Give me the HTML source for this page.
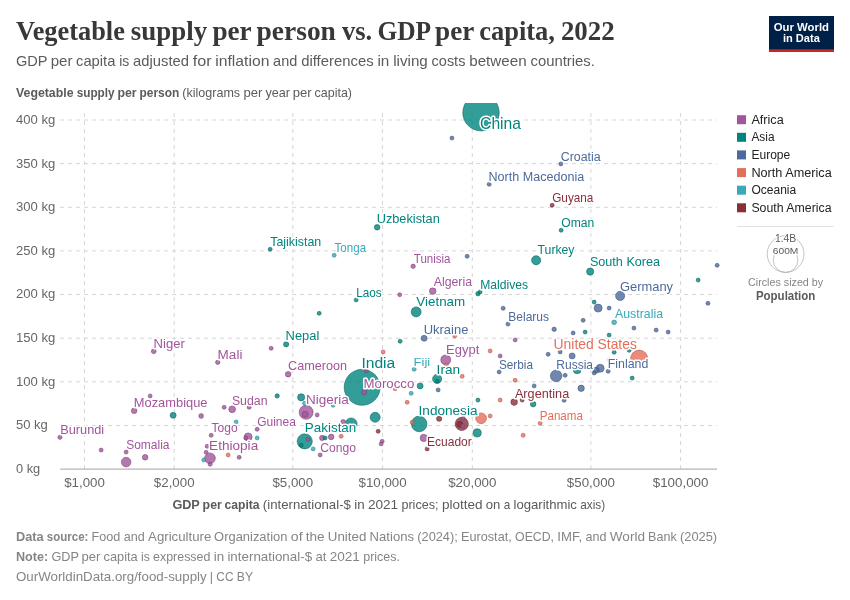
<!DOCTYPE html>
<html lang="en"><head><meta charset="utf-8"><title>Vegetable supply per person vs. GDP per capita, 2022</title>
<style>
html,body{margin:0;padding:0;background:#fff;}
body{width:850px;height:600px;overflow:hidden;font-family:"Liberation Sans",sans-serif;}
svg{display:block;font-family:"Liberation Sans",sans-serif;}
.t{font-family:"Liberation Serif",serif;font-weight:700;fill:#383838;}
.g{stroke:#d6d6d6;stroke-width:1;stroke-dasharray:4 4;fill:none;}
.lb text{paint-order:stroke;stroke:#fff;stroke-width:3px;stroke-linejoin:round;}
.tick{font-size:13px;fill:#666;}
</style></head><body>
<svg width="850" height="600" viewBox="0 0 850 600">
<rect width="850" height="600" fill="#fff"/>
<text y="40" font-size="26.3" class="t"><tspan x="16.0" textLength="108.9" lengthAdjust="spacingAndGlyphs">Vegetable</tspan> <tspan x="130.8" textLength="76.3" lengthAdjust="spacingAndGlyphs">supply</tspan> <tspan x="212.4" textLength="38.8" lengthAdjust="spacingAndGlyphs">per</tspan> <tspan x="256.6" textLength="79.3" lengthAdjust="spacingAndGlyphs">person</tspan> <tspan x="341.9" textLength="30.2" lengthAdjust="spacingAndGlyphs">vs.</tspan> <tspan x="377.4" textLength="52.3" lengthAdjust="spacingAndGlyphs">GDP</tspan> <tspan x="435.0" textLength="38.8" lengthAdjust="spacingAndGlyphs">per</tspan> <tspan x="479.2" textLength="75.8" lengthAdjust="spacingAndGlyphs">capita,</tspan> <tspan x="560.9" textLength="53.8" lengthAdjust="spacingAndGlyphs">2022</tspan></text>
<text y="66" font-size="14.8" fill="#5b5b5b"><tspan x="16.0" textLength="31.3" lengthAdjust="spacingAndGlyphs">GDP</tspan> <tspan x="50.7" textLength="21.7" lengthAdjust="spacingAndGlyphs">per</tspan> <tspan x="76.0" textLength="39.4" lengthAdjust="spacingAndGlyphs">capita</tspan> <tspan x="119.2" textLength="10.1" lengthAdjust="spacingAndGlyphs">is</tspan> <tspan x="133.1" textLength="55.9" lengthAdjust="spacingAndGlyphs">adjusted</tspan> <tspan x="192.8" textLength="18.9" lengthAdjust="spacingAndGlyphs">for</tspan> <tspan x="215.3" textLength="54.1" lengthAdjust="spacingAndGlyphs">inflation</tspan> <tspan x="273.1" textLength="24.2" lengthAdjust="spacingAndGlyphs">and</tspan> <tspan x="301.2" textLength="72.4" lengthAdjust="spacingAndGlyphs">differences</tspan> <tspan x="377.4" textLength="11.9" lengthAdjust="spacingAndGlyphs">in</tspan> <tspan x="393.2" textLength="34.6" lengthAdjust="spacingAndGlyphs">living</tspan> <tspan x="431.6" textLength="33.8" lengthAdjust="spacingAndGlyphs">costs</tspan> <tspan x="469.2" textLength="57.4" lengthAdjust="spacingAndGlyphs">between</tspan> <tspan x="530.5" textLength="64.4" lengthAdjust="spacingAndGlyphs">countries.</tspan></text>
<g><rect x="769" y="16" width="65" height="36" fill="#002147"/><rect x="769" y="49.3" width="65" height="2.7" fill="#ce261e"/><text x="801.4" y="30.6" font-size="11.4" font-weight="700" fill="#fff" text-anchor="middle" textLength="55.2" lengthAdjust="spacingAndGlyphs">Our World</text><text x="801.4" y="42.4" font-size="11.4" font-weight="700" fill="#fff" text-anchor="middle" textLength="37" lengthAdjust="spacingAndGlyphs">in Data</text></g>
<text y="97" font-size="13" fill="#5b5b5b"><tspan x="16.0" font-weight="700" textLength="57.5" lengthAdjust="spacingAndGlyphs">Vegetable</tspan> <tspan x="76.7" font-weight="700" textLength="37.9" lengthAdjust="spacingAndGlyphs">supply</tspan> <tspan x="117.4" font-weight="700" textLength="19.2" lengthAdjust="spacingAndGlyphs">per</tspan> <tspan x="139.5" font-weight="700" textLength="39.7" lengthAdjust="spacingAndGlyphs">person</tspan> <tspan x="182.3" textLength="57.8" lengthAdjust="spacingAndGlyphs">(kilograms</tspan> <tspan x="243.4" textLength="18.9" lengthAdjust="spacingAndGlyphs">per</tspan> <tspan x="265.4" textLength="24.6" lengthAdjust="spacingAndGlyphs">year</tspan> <tspan x="292.7" textLength="18.9" lengthAdjust="spacingAndGlyphs">per</tspan> <tspan x="314.6" textLength="37.4" lengthAdjust="spacingAndGlyphs">capita)</tspan></text>
<g class="g"><line x1="60" y1="425.5" x2="717" y2="425.5"/><line x1="60" y1="381.8" x2="717" y2="381.8"/><line x1="60" y1="338.2" x2="717" y2="338.2"/><line x1="60" y1="294.5" x2="717" y2="294.5"/><line x1="60" y1="250.9" x2="717" y2="250.9"/><line x1="60" y1="207.3" x2="717" y2="207.3"/><line x1="60" y1="163.6" x2="717" y2="163.6"/><line x1="60" y1="120.0" x2="717" y2="120.0"/><line x1="84.5" y1="113" x2="84.5" y2="469.1"/><line x1="174.22" y1="113" x2="174.22" y2="469.1"/><line x1="292.83" y1="113" x2="292.83" y2="469.1"/><line x1="382.55" y1="113" x2="382.55" y2="469.1"/><line x1="472.27" y1="113" x2="472.27" y2="469.1"/><line x1="590.88" y1="113" x2="590.88" y2="469.1"/><line x1="680.6" y1="113" x2="680.6" y2="469.1"/></g>
<line x1="60.2" y1="469.1" x2="717" y2="469.1" stroke="#a1a1a1" stroke-width="1"/>
<g class="tick"><text x="16.0" y="473.0" font-size="13" textLength="24.2" lengthAdjust="spacingAndGlyphs">0 kg</text><text x="16.0" y="429.4" font-size="13" textLength="31.8" lengthAdjust="spacingAndGlyphs">50 kg</text><text x="16.0" y="385.7" font-size="13" textLength="39.3" lengthAdjust="spacingAndGlyphs">100 kg</text><text x="16.0" y="342.1" font-size="13" textLength="39.3" lengthAdjust="spacingAndGlyphs">150 kg</text><text x="16.0" y="298.4" font-size="13" textLength="39.3" lengthAdjust="spacingAndGlyphs">200 kg</text><text x="16.0" y="254.8" font-size="13" textLength="39.3" lengthAdjust="spacingAndGlyphs">250 kg</text><text x="16.0" y="211.2" font-size="13" textLength="39.3" lengthAdjust="spacingAndGlyphs">300 kg</text><text x="16.0" y="167.5" font-size="13" textLength="39.3" lengthAdjust="spacingAndGlyphs">350 kg</text><text x="16.0" y="123.9" font-size="13" textLength="39.3" lengthAdjust="spacingAndGlyphs">400 kg</text><text x="84.5" y="487.0" font-size="13" text-anchor="middle" textLength="40.7" lengthAdjust="spacingAndGlyphs">$1,000</text><text x="174.2" y="487.0" font-size="13" text-anchor="middle" textLength="40.7" lengthAdjust="spacingAndGlyphs">$2,000</text><text x="292.8" y="487.0" font-size="13" text-anchor="middle" textLength="40.7" lengthAdjust="spacingAndGlyphs">$5,000</text><text x="382.6" y="487.0" font-size="13" text-anchor="middle" textLength="48.2" lengthAdjust="spacingAndGlyphs">$10,000</text><text x="472.3" y="487.0" font-size="13" text-anchor="middle" textLength="48.2" lengthAdjust="spacingAndGlyphs">$20,000</text><text x="590.9" y="487.0" font-size="13" text-anchor="middle" textLength="48.2" lengthAdjust="spacingAndGlyphs">$50,000</text><text x="680.6" y="487.0" font-size="13" text-anchor="middle" textLength="55.7" lengthAdjust="spacingAndGlyphs">$100,000</text></g>
<text y="508.6" font-size="13" fill="#5b5b5b"><tspan x="172.4" font-weight="700" textLength="27.4" lengthAdjust="spacingAndGlyphs">GDP</tspan> <tspan x="202.6" font-weight="700" textLength="19.2" lengthAdjust="spacingAndGlyphs">per</tspan> <tspan x="224.6" font-weight="700" textLength="35.0" lengthAdjust="spacingAndGlyphs">capita</tspan> <tspan x="262.8" textLength="88.1" lengthAdjust="spacingAndGlyphs">(international-$</tspan> <tspan x="354.2" textLength="10.4" lengthAdjust="spacingAndGlyphs">in</tspan> <tspan x="367.9" textLength="30.2" lengthAdjust="spacingAndGlyphs">2021</tspan> <tspan x="401.4" textLength="37.1" lengthAdjust="spacingAndGlyphs">prices;</tspan> <tspan x="441.9" textLength="40.6" lengthAdjust="spacingAndGlyphs">plotted</tspan> <tspan x="485.8" textLength="14.6" lengthAdjust="spacingAndGlyphs">on</tspan> <tspan x="503.8" textLength="6.5" lengthAdjust="spacingAndGlyphs">a</tspan> <tspan x="513.5" textLength="63.4" lengthAdjust="spacingAndGlyphs">logarithmic</tspan> <tspan x="580.3" textLength="24.9" lengthAdjust="spacingAndGlyphs">axis)</tspan></text>
<defs><clipPath id="cp"><rect x="50" y="103" width="677" height="377"/></clipPath></defs>
<g clip-path="url(#cp)"><circle cx="481.00" cy="112.65" r="18.25" fill="#00847e" fill-opacity="0.8" stroke="#005a56" stroke-width="0.5"/><circle cx="362.15" cy="387.30" r="18" fill="#00847e" fill-opacity="0.8" stroke="#005a56" stroke-width="0.5"/><circle cx="639.15" cy="358.70" r="8.6" fill="#e56e5a" fill-opacity="0.8" stroke="#a84e40" stroke-width="0.5"/><circle cx="419.15" cy="423.90" r="7.8" fill="#00847e" fill-opacity="0.8" stroke="#005a56" stroke-width="0.5"/><circle cx="304.75" cy="441.30" r="7.6" fill="#00847e" fill-opacity="0.8" stroke="#005a56" stroke-width="0.5"/><circle cx="306.15" cy="412.30" r="7" fill="#a2559c" fill-opacity="0.8" stroke="#6f3a6b" stroke-width="0.5"/><circle cx="461.75" cy="423.90" r="6.6" fill="#883039" fill-opacity="0.8" stroke="#5a1f25" stroke-width="0.5"/><circle cx="351.15" cy="423.90" r="6" fill="#00847e" fill-opacity="0.8" stroke="#005a56" stroke-width="0.5"/><circle cx="556.15" cy="375.90" r="5.8" fill="#4c6a9c" fill-opacity="0.8" stroke="#34496b" stroke-width="0.5"/><circle cx="209.95" cy="458.30" r="5.4" fill="#a2559c" fill-opacity="0.8" stroke="#6f3a6b" stroke-width="0.5"/><circle cx="481.15" cy="418.30" r="5.4" fill="#e56e5a" fill-opacity="0.8" stroke="#a84e40" stroke-width="0.5"/><circle cx="445.75" cy="359.90" r="5" fill="#a2559c" fill-opacity="0.8" stroke="#6f3a6b" stroke-width="0.5"/><circle cx="375.15" cy="417.30" r="5" fill="#00847e" fill-opacity="0.8" stroke="#005a56" stroke-width="0.5"/><circle cx="416.15" cy="311.90" r="5" fill="#00847e" fill-opacity="0.8" stroke="#005a56" stroke-width="0.5"/><circle cx="126.15" cy="462.10" r="4.8" fill="#a2559c" fill-opacity="0.8" stroke="#6f3a6b" stroke-width="0.5"/><circle cx="437.15" cy="378.90" r="4.6" fill="#00847e" fill-opacity="0.8" stroke="#005a56" stroke-width="0.5"/><circle cx="536.15" cy="260.30" r="4.6" fill="#00847e" fill-opacity="0.8" stroke="#005a56" stroke-width="0.5"/><circle cx="620.15" cy="295.90" r="4.6" fill="#4c6a9c" fill-opacity="0.8" stroke="#34496b" stroke-width="0.5"/><circle cx="477.15" cy="432.90" r="4.1" fill="#00847e" fill-opacity="0.8" stroke="#005a56" stroke-width="0.5"/><circle cx="248.15" cy="436.90" r="4" fill="#a2559c" fill-opacity="0.8" stroke="#6f3a6b" stroke-width="0.5"/><circle cx="577.15" cy="369.70" r="4" fill="#00847e" fill-opacity="0.8" stroke="#005a56" stroke-width="0.5"/><circle cx="598.15" cy="308.10" r="4" fill="#4c6a9c" fill-opacity="0.8" stroke="#34496b" stroke-width="0.5"/><circle cx="600.15" cy="368.30" r="4" fill="#4c6a9c" fill-opacity="0.8" stroke="#34496b" stroke-width="0.5"/><circle cx="423.75" cy="437.90" r="3.6" fill="#a2559c" fill-opacity="0.8" stroke="#6f3a6b" stroke-width="0.5"/><circle cx="301.15" cy="397.30" r="3.6" fill="#00847e" fill-opacity="0.8" stroke="#005a56" stroke-width="0.5"/><circle cx="590.15" cy="271.60" r="3.6" fill="#00847e" fill-opacity="0.8" stroke="#005a56" stroke-width="0.5"/><circle cx="232.15" cy="409.30" r="3.4" fill="#a2559c" fill-opacity="0.8" stroke="#6f3a6b" stroke-width="0.5"/><circle cx="432.75" cy="291.10" r="3.3" fill="#a2559c" fill-opacity="0.8" stroke="#6f3a6b" stroke-width="0.5"/><circle cx="514.15" cy="402.10" r="3.3" fill="#883039" fill-opacity="0.8" stroke="#5a1f25" stroke-width="0.5"/><circle cx="581.15" cy="388.30" r="3.2" fill="#4c6a9c" fill-opacity="0.8" stroke="#34496b" stroke-width="0.5"/><circle cx="305.15" cy="414.30" r="3" fill="#a2559c" fill-opacity="0.8" stroke="#6f3a6b" stroke-width="0.5"/><circle cx="173.15" cy="415.30" r="3" fill="#00847e" fill-opacity="0.8" stroke="#005a56" stroke-width="0.5"/><circle cx="420.15" cy="385.90" r="3" fill="#00847e" fill-opacity="0.8" stroke="#005a56" stroke-width="0.5"/><circle cx="424.15" cy="338.30" r="3" fill="#4c6a9c" fill-opacity="0.8" stroke="#34496b" stroke-width="0.5"/><circle cx="572.15" cy="355.90" r="3" fill="#4c6a9c" fill-opacity="0.8" stroke="#34496b" stroke-width="0.5"/><circle cx="596.15" cy="370.30" r="3" fill="#4c6a9c" fill-opacity="0.8" stroke="#34496b" stroke-width="0.5"/><circle cx="459.75" cy="424.30" r="3" fill="#883039" fill-opacity="0.8" stroke="#5a1f25" stroke-width="0.5"/><circle cx="145.15" cy="457.30" r="2.8" fill="#a2559c" fill-opacity="0.8" stroke="#6f3a6b" stroke-width="0.5"/><circle cx="134.15" cy="410.80" r="2.8" fill="#a2559c" fill-opacity="0.8" stroke="#6f3a6b" stroke-width="0.5"/><circle cx="331.15" cy="436.90" r="2.8" fill="#a2559c" fill-opacity="0.8" stroke="#6f3a6b" stroke-width="0.5"/><circle cx="288.15" cy="374.30" r="2.8" fill="#a2559c" fill-opacity="0.8" stroke="#6f3a6b" stroke-width="0.5"/><circle cx="533.15" cy="404.10" r="2.8" fill="#00847e" fill-opacity="0.8" stroke="#005a56" stroke-width="0.5"/><circle cx="377.15" cy="227.30" r="2.8" fill="#00847e" fill-opacity="0.8" stroke="#005a56" stroke-width="0.5"/><circle cx="322.15" cy="437.90" r="2.6" fill="#a2559c" fill-opacity="0.8" stroke="#6f3a6b" stroke-width="0.5"/><circle cx="364.15" cy="392.30" r="2.6" fill="#a2559c" fill-opacity="0.8" stroke="#6f3a6b" stroke-width="0.5"/><circle cx="286.15" cy="344.30" r="2.6" fill="#00847e" fill-opacity="0.8" stroke="#005a56" stroke-width="0.5"/><circle cx="439.15" cy="418.70" r="2.6" fill="#883039" fill-opacity="0.8" stroke="#5a1f25" stroke-width="0.5"/><circle cx="201.15" cy="416.00" r="2.4" fill="#a2559c" fill-opacity="0.8" stroke="#6f3a6b" stroke-width="0.5"/><circle cx="343.15" cy="421.90" r="2.4" fill="#a2559c" fill-opacity="0.8" stroke="#6f3a6b" stroke-width="0.5"/><circle cx="153.75" cy="351.30" r="2.4" fill="#a2559c" fill-opacity="0.8" stroke="#6f3a6b" stroke-width="0.5"/><circle cx="614.15" cy="322.30" r="2.4" fill="#38aaba" fill-opacity="0.8" stroke="#267581" stroke-width="0.5"/><circle cx="217.75" cy="362.30" r="2.2" fill="#a2559c" fill-opacity="0.8" stroke="#6f3a6b" stroke-width="0.5"/><circle cx="413.15" cy="266.30" r="2.2" fill="#a2559c" fill-opacity="0.8" stroke="#6f3a6b" stroke-width="0.5"/><circle cx="277.15" cy="395.90" r="2.2" fill="#00847e" fill-opacity="0.8" stroke="#005a56" stroke-width="0.5"/><circle cx="477.95" cy="293.70" r="2.2" fill="#00847e" fill-opacity="0.8" stroke="#005a56" stroke-width="0.5"/><circle cx="554.15" cy="329.30" r="2.2" fill="#4c6a9c" fill-opacity="0.8" stroke="#34496b" stroke-width="0.5"/><circle cx="59.95" cy="437.30" r="2.1" fill="#a2559c" fill-opacity="0.8" stroke="#6f3a6b" stroke-width="0.5"/><circle cx="101.15" cy="450.10" r="2" fill="#a2559c" fill-opacity="0.8" stroke="#6f3a6b" stroke-width="0.5"/><circle cx="126.15" cy="452.10" r="2" fill="#a2559c" fill-opacity="0.8" stroke="#6f3a6b" stroke-width="0.5"/><circle cx="211.15" cy="435.30" r="2" fill="#a2559c" fill-opacity="0.8" stroke="#6f3a6b" stroke-width="0.5"/><circle cx="207.15" cy="446.30" r="2" fill="#a2559c" fill-opacity="0.8" stroke="#6f3a6b" stroke-width="0.5"/><circle cx="206.15" cy="452.30" r="2" fill="#a2559c" fill-opacity="0.8" stroke="#6f3a6b" stroke-width="0.5"/><circle cx="210.15" cy="464.30" r="2" fill="#a2559c" fill-opacity="0.8" stroke="#6f3a6b" stroke-width="0.5"/><circle cx="224.15" cy="407.30" r="2" fill="#a2559c" fill-opacity="0.8" stroke="#6f3a6b" stroke-width="0.5"/><circle cx="249.15" cy="407.30" r="2" fill="#a2559c" fill-opacity="0.8" stroke="#6f3a6b" stroke-width="0.5"/><circle cx="257.15" cy="429.30" r="2" fill="#a2559c" fill-opacity="0.8" stroke="#6f3a6b" stroke-width="0.5"/><circle cx="245.75" cy="437.90" r="2" fill="#a2559c" fill-opacity="0.8" stroke="#6f3a6b" stroke-width="0.5"/><circle cx="239.15" cy="457.30" r="2" fill="#a2559c" fill-opacity="0.8" stroke="#6f3a6b" stroke-width="0.5"/><circle cx="317.15" cy="414.90" r="2" fill="#a2559c" fill-opacity="0.8" stroke="#6f3a6b" stroke-width="0.5"/><circle cx="308.15" cy="439.30" r="2" fill="#a2559c" fill-opacity="0.8" stroke="#6f3a6b" stroke-width="0.5"/><circle cx="320.15" cy="454.90" r="2" fill="#a2559c" fill-opacity="0.8" stroke="#6f3a6b" stroke-width="0.5"/><circle cx="382.15" cy="441.30" r="2" fill="#a2559c" fill-opacity="0.8" stroke="#6f3a6b" stroke-width="0.5"/><circle cx="381.15" cy="443.90" r="2" fill="#a2559c" fill-opacity="0.8" stroke="#6f3a6b" stroke-width="0.5"/><circle cx="463.15" cy="418.30" r="2" fill="#a2559c" fill-opacity="0.8" stroke="#6f3a6b" stroke-width="0.5"/><circle cx="462.75" cy="425.90" r="2" fill="#a2559c" fill-opacity="0.8" stroke="#6f3a6b" stroke-width="0.5"/><circle cx="150.15" cy="395.90" r="2" fill="#a2559c" fill-opacity="0.8" stroke="#6f3a6b" stroke-width="0.5"/><circle cx="271.15" cy="348.30" r="2" fill="#a2559c" fill-opacity="0.8" stroke="#6f3a6b" stroke-width="0.5"/><circle cx="366.15" cy="370.80" r="2" fill="#a2559c" fill-opacity="0.8" stroke="#6f3a6b" stroke-width="0.5"/><circle cx="399.75" cy="294.70" r="2" fill="#a2559c" fill-opacity="0.8" stroke="#6f3a6b" stroke-width="0.5"/><circle cx="500.15" cy="355.90" r="2" fill="#a2559c" fill-opacity="0.8" stroke="#6f3a6b" stroke-width="0.5"/><circle cx="515.15" cy="339.90" r="2" fill="#a2559c" fill-opacity="0.8" stroke="#6f3a6b" stroke-width="0.5"/><circle cx="301.15" cy="445.30" r="2" fill="#00847e" fill-opacity="0.8" stroke="#005a56" stroke-width="0.5"/><circle cx="325.15" cy="437.90" r="2" fill="#00847e" fill-opacity="0.8" stroke="#005a56" stroke-width="0.5"/><circle cx="477.95" cy="400.10" r="2" fill="#00847e" fill-opacity="0.8" stroke="#005a56" stroke-width="0.5"/><circle cx="319.15" cy="313.30" r="2" fill="#00847e" fill-opacity="0.8" stroke="#005a56" stroke-width="0.5"/><circle cx="356.15" cy="299.90" r="2" fill="#00847e" fill-opacity="0.8" stroke="#005a56" stroke-width="0.5"/><circle cx="480.15" cy="291.90" r="2" fill="#00847e" fill-opacity="0.8" stroke="#005a56" stroke-width="0.5"/><circle cx="400.15" cy="341.30" r="2" fill="#00847e" fill-opacity="0.8" stroke="#005a56" stroke-width="0.5"/><circle cx="585.15" cy="332.10" r="2" fill="#00847e" fill-opacity="0.8" stroke="#005a56" stroke-width="0.5"/><circle cx="594.15" cy="302.10" r="2" fill="#00847e" fill-opacity="0.8" stroke="#005a56" stroke-width="0.5"/><circle cx="609.15" cy="335.10" r="2" fill="#00847e" fill-opacity="0.8" stroke="#005a56" stroke-width="0.5"/><circle cx="614.15" cy="352.30" r="2" fill="#00847e" fill-opacity="0.8" stroke="#005a56" stroke-width="0.5"/><circle cx="629.15" cy="350.30" r="2" fill="#00847e" fill-opacity="0.8" stroke="#005a56" stroke-width="0.5"/><circle cx="632.15" cy="378.10" r="2" fill="#00847e" fill-opacity="0.8" stroke="#005a56" stroke-width="0.5"/><circle cx="698.15" cy="280.10" r="2" fill="#00847e" fill-opacity="0.8" stroke="#005a56" stroke-width="0.5"/><circle cx="270.15" cy="249.30" r="2" fill="#00847e" fill-opacity="0.8" stroke="#005a56" stroke-width="0.5"/><circle cx="561.15" cy="230.30" r="2" fill="#00847e" fill-opacity="0.8" stroke="#005a56" stroke-width="0.5"/><circle cx="503.15" cy="308.30" r="2" fill="#4c6a9c" fill-opacity="0.8" stroke="#34496b" stroke-width="0.5"/><circle cx="507.95" cy="324.10" r="2" fill="#4c6a9c" fill-opacity="0.8" stroke="#34496b" stroke-width="0.5"/><circle cx="499.15" cy="371.90" r="2" fill="#4c6a9c" fill-opacity="0.8" stroke="#34496b" stroke-width="0.5"/><circle cx="438.15" cy="389.90" r="2" fill="#4c6a9c" fill-opacity="0.8" stroke="#34496b" stroke-width="0.5"/><circle cx="534.15" cy="385.90" r="2" fill="#4c6a9c" fill-opacity="0.8" stroke="#34496b" stroke-width="0.5"/><circle cx="573.15" cy="332.90" r="2" fill="#4c6a9c" fill-opacity="0.8" stroke="#34496b" stroke-width="0.5"/><circle cx="583.15" cy="320.30" r="2" fill="#4c6a9c" fill-opacity="0.8" stroke="#34496b" stroke-width="0.5"/><circle cx="609.15" cy="308.10" r="2" fill="#4c6a9c" fill-opacity="0.8" stroke="#34496b" stroke-width="0.5"/><circle cx="633.95" cy="328.10" r="2" fill="#4c6a9c" fill-opacity="0.8" stroke="#34496b" stroke-width="0.5"/><circle cx="656.15" cy="330.10" r="2" fill="#4c6a9c" fill-opacity="0.8" stroke="#34496b" stroke-width="0.5"/><circle cx="668.15" cy="332.10" r="2" fill="#4c6a9c" fill-opacity="0.8" stroke="#34496b" stroke-width="0.5"/><circle cx="548.15" cy="354.30" r="2" fill="#4c6a9c" fill-opacity="0.8" stroke="#34496b" stroke-width="0.5"/><circle cx="560.15" cy="351.90" r="2" fill="#4c6a9c" fill-opacity="0.8" stroke="#34496b" stroke-width="0.5"/><circle cx="565.15" cy="375.30" r="2" fill="#4c6a9c" fill-opacity="0.8" stroke="#34496b" stroke-width="0.5"/><circle cx="594.15" cy="372.90" r="2" fill="#4c6a9c" fill-opacity="0.8" stroke="#34496b" stroke-width="0.5"/><circle cx="608.15" cy="371.30" r="2" fill="#4c6a9c" fill-opacity="0.8" stroke="#34496b" stroke-width="0.5"/><circle cx="564.15" cy="400.30" r="2" fill="#4c6a9c" fill-opacity="0.8" stroke="#34496b" stroke-width="0.5"/><circle cx="717.15" cy="265.30" r="2" fill="#4c6a9c" fill-opacity="0.8" stroke="#34496b" stroke-width="0.5"/><circle cx="707.95" cy="303.30" r="2" fill="#4c6a9c" fill-opacity="0.8" stroke="#34496b" stroke-width="0.5"/><circle cx="467.15" cy="256.30" r="2" fill="#4c6a9c" fill-opacity="0.8" stroke="#34496b" stroke-width="0.5"/><circle cx="489.15" cy="184.30" r="2" fill="#4c6a9c" fill-opacity="0.8" stroke="#34496b" stroke-width="0.5"/><circle cx="560.85" cy="163.90" r="2" fill="#4c6a9c" fill-opacity="0.8" stroke="#34496b" stroke-width="0.5"/><circle cx="451.95" cy="138.10" r="2" fill="#4c6a9c" fill-opacity="0.8" stroke="#34496b" stroke-width="0.5"/><circle cx="228.15" cy="454.90" r="2" fill="#e56e5a" fill-opacity="0.8" stroke="#a84e40" stroke-width="0.5"/><circle cx="341.15" cy="436.30" r="2" fill="#e56e5a" fill-opacity="0.8" stroke="#a84e40" stroke-width="0.5"/><circle cx="407.15" cy="402.30" r="2" fill="#e56e5a" fill-opacity="0.8" stroke="#a84e40" stroke-width="0.5"/><circle cx="412.15" cy="422.30" r="2" fill="#e56e5a" fill-opacity="0.8" stroke="#a84e40" stroke-width="0.5"/><circle cx="490.15" cy="415.90" r="2" fill="#e56e5a" fill-opacity="0.8" stroke="#a84e40" stroke-width="0.5"/><circle cx="500.15" cy="400.10" r="2" fill="#e56e5a" fill-opacity="0.8" stroke="#a84e40" stroke-width="0.5"/><circle cx="540.15" cy="423.30" r="2" fill="#e56e5a" fill-opacity="0.8" stroke="#a84e40" stroke-width="0.5"/><circle cx="523.15" cy="435.30" r="2" fill="#e56e5a" fill-opacity="0.8" stroke="#a84e40" stroke-width="0.5"/><circle cx="454.75" cy="335.90" r="2" fill="#e56e5a" fill-opacity="0.8" stroke="#a84e40" stroke-width="0.5"/><circle cx="383.15" cy="351.90" r="2" fill="#e56e5a" fill-opacity="0.8" stroke="#a84e40" stroke-width="0.5"/><circle cx="490.15" cy="350.90" r="2" fill="#e56e5a" fill-opacity="0.8" stroke="#a84e40" stroke-width="0.5"/><circle cx="462.15" cy="376.30" r="2" fill="#e56e5a" fill-opacity="0.8" stroke="#a84e40" stroke-width="0.5"/><circle cx="395.15" cy="388.70" r="2" fill="#e56e5a" fill-opacity="0.8" stroke="#a84e40" stroke-width="0.5"/><circle cx="515.15" cy="380.30" r="2" fill="#e56e5a" fill-opacity="0.8" stroke="#a84e40" stroke-width="0.5"/><circle cx="609.15" cy="359.90" r="2" fill="#e56e5a" fill-opacity="0.8" stroke="#a84e40" stroke-width="0.5"/><circle cx="446.35" cy="364.70" r="2" fill="#e56e5a" fill-opacity="0.8" stroke="#a84e40" stroke-width="0.5"/><circle cx="203.75" cy="459.90" r="2" fill="#38aaba" fill-opacity="0.8" stroke="#267581" stroke-width="0.5"/><circle cx="236.15" cy="421.90" r="2" fill="#38aaba" fill-opacity="0.8" stroke="#267581" stroke-width="0.5"/><circle cx="257.15" cy="437.90" r="2" fill="#38aaba" fill-opacity="0.8" stroke="#267581" stroke-width="0.5"/><circle cx="304.55" cy="403.30" r="2" fill="#38aaba" fill-opacity="0.8" stroke="#267581" stroke-width="0.5"/><circle cx="333.15" cy="405.30" r="2" fill="#38aaba" fill-opacity="0.8" stroke="#267581" stroke-width="0.5"/><circle cx="313.15" cy="448.90" r="2" fill="#38aaba" fill-opacity="0.8" stroke="#267581" stroke-width="0.5"/><circle cx="414.15" cy="369.30" r="2" fill="#38aaba" fill-opacity="0.8" stroke="#267581" stroke-width="0.5"/><circle cx="411.15" cy="393.30" r="2" fill="#38aaba" fill-opacity="0.8" stroke="#267581" stroke-width="0.5"/><circle cx="334.15" cy="255.30" r="2" fill="#38aaba" fill-opacity="0.8" stroke="#267581" stroke-width="0.5"/><circle cx="378.15" cy="431.30" r="2" fill="#883039" fill-opacity="0.8" stroke="#5a1f25" stroke-width="0.5"/><circle cx="427.15" cy="448.90" r="2" fill="#883039" fill-opacity="0.8" stroke="#5a1f25" stroke-width="0.5"/><circle cx="522.15" cy="400.10" r="2" fill="#883039" fill-opacity="0.8" stroke="#5a1f25" stroke-width="0.5"/><circle cx="552.15" cy="205.30" r="2" fill="#883039" fill-opacity="0.8" stroke="#5a1f25" stroke-width="0.5"/><circle cx="437.25" cy="381.10" r="1.9" fill="#00847e" fill-opacity="0.8" stroke="#005a56" stroke-width="0.5"/></g>
<g class="lb"><text x="60.2" y="434" font-size="12.2" fill="#a2559c" textLength="44.0" lengthAdjust="spacingAndGlyphs">Burundi</text><text x="126.2" y="449" font-size="12.4" fill="#a2559c" textLength="43.3" lengthAdjust="spacingAndGlyphs">Somalia</text><text x="133.8" y="407" font-size="12.7" fill="#a2559c" textLength="73.7" lengthAdjust="spacingAndGlyphs">Mozambique</text><text x="153.6" y="348" font-size="12.6" fill="#a2559c" textLength="31.3" lengthAdjust="spacingAndGlyphs">Niger</text><text x="211.6" y="432" font-size="12.0" fill="#a2559c" textLength="26.1" lengthAdjust="spacingAndGlyphs">Togo</text><text x="257.2" y="426" font-size="12.2" fill="#a2559c" textLength="38.7" lengthAdjust="spacingAndGlyphs">Guinea</text><text x="209.1" y="450" font-size="13.3" fill="#a2559c" textLength="49.1" lengthAdjust="spacingAndGlyphs">Ethiopia</text><text x="304.8" y="432" font-size="13.5" fill="#00847e" textLength="51.5" lengthAdjust="spacingAndGlyphs">Pakistan</text><text x="320.2" y="452" font-size="12.1" fill="#a2559c" textLength="35.8" lengthAdjust="spacingAndGlyphs">Congo</text><text x="217.6" y="359" font-size="12.3" fill="#a2559c" textLength="24.8" lengthAdjust="spacingAndGlyphs">Mali</text><text x="285.6" y="340" font-size="12.5" fill="#00847e" textLength="33.8" lengthAdjust="spacingAndGlyphs">Nepal</text><text x="288.0" y="370" font-size="12.6" fill="#a2559c" textLength="59.1" lengthAdjust="spacingAndGlyphs">Cameroon</text><text x="231.9" y="405" font-size="12.6" fill="#a2559c" textLength="35.6" lengthAdjust="spacingAndGlyphs">Sudan</text><text x="306.0" y="404" font-size="13.3" fill="#a2559c" textLength="42.8" lengthAdjust="spacingAndGlyphs">Nigeria</text><text x="356.2" y="297" font-size="11.9" fill="#00847e" textLength="25.5" lengthAdjust="spacingAndGlyphs">Laos</text><text x="416.3" y="306" font-size="13.0" fill="#00847e" textLength="48.9" lengthAdjust="spacingAndGlyphs">Vietnam</text><text x="423.7" y="334" font-size="12.6" fill="#4c6a9c" textLength="44.7" lengthAdjust="spacingAndGlyphs">Ukraine</text><text x="446.1" y="354" font-size="12.7" fill="#a2559c" textLength="33.2" lengthAdjust="spacingAndGlyphs">Egypt</text><text x="361.4" y="368" font-size="15.3" fill="#00847e" textLength="33.9" lengthAdjust="spacingAndGlyphs">India</text><text x="413.6" y="366" font-size="11.4" fill="#38aaba" textLength="16.6" lengthAdjust="spacingAndGlyphs">Fiji</text><text x="436.6" y="374" font-size="12.7" fill="#00847e" textLength="23.5" lengthAdjust="spacingAndGlyphs">Iran</text><text x="363.6" y="388" font-size="12.6" fill="#a2559c" textLength="50.7" lengthAdjust="spacingAndGlyphs">Morocco</text><text x="418.6" y="415" font-size="13.7" fill="#00847e" textLength="58.9" lengthAdjust="spacingAndGlyphs">Indonesia</text><text x="427.0" y="446" font-size="12.2" fill="#883039" textLength="44.8" lengthAdjust="spacingAndGlyphs">Ecuador</text><text x="539.7" y="420" font-size="12.2" fill="#e56e5a" textLength="43.3" lengthAdjust="spacingAndGlyphs">Panama</text><text x="508.3" y="321" font-size="12.2" fill="#4c6a9c" textLength="40.7" lengthAdjust="spacingAndGlyphs">Belarus</text><text x="553.6" y="349" font-size="13.9" fill="#e56e5a" textLength="83.3" lengthAdjust="spacingAndGlyphs">United States</text><text x="498.9" y="369" font-size="12.1" fill="#4c6a9c" textLength="34.2" lengthAdjust="spacingAndGlyphs">Serbia</text><text x="556.3" y="369" font-size="12.9" fill="#4c6a9c" textLength="36.7" lengthAdjust="spacingAndGlyphs">Russia</text><text x="607.8" y="368" font-size="12.0" fill="#4c6a9c" textLength="40.5" lengthAdjust="spacingAndGlyphs">Finland</text><text x="514.9" y="398" font-size="12.6" fill="#883039" textLength="54.3" lengthAdjust="spacingAndGlyphs">Argentina</text><text x="620.0" y="291" font-size="13.0" fill="#4c6a9c" textLength="53.0" lengthAdjust="spacingAndGlyphs">Germany</text><text x="615.0" y="318" font-size="12.4" fill="#38aaba" textLength="48.0" lengthAdjust="spacingAndGlyphs">Australia</text><text x="270.2" y="246" font-size="12.4" fill="#00847e" textLength="51.0" lengthAdjust="spacingAndGlyphs">Tajikistan</text><text x="334.6" y="252" font-size="11.9" fill="#38aaba" textLength="31.5" lengthAdjust="spacingAndGlyphs">Tonga</text><text x="376.7" y="223" font-size="12.6" fill="#00847e" textLength="63.1" lengthAdjust="spacingAndGlyphs">Uzbekistan</text><text x="413.8" y="263" font-size="12.0" fill="#a2559c" textLength="36.7" lengthAdjust="spacingAndGlyphs">Tunisia</text><text x="433.7" y="286" font-size="12.5" fill="#a2559c" textLength="38.4" lengthAdjust="spacingAndGlyphs">Algeria</text><text x="480.2" y="289" font-size="11.9" fill="#00847e" textLength="47.9" lengthAdjust="spacingAndGlyphs">Maldives</text><text x="552.2" y="202" font-size="12.1" fill="#883039" textLength="41.2" lengthAdjust="spacingAndGlyphs">Guyana</text><text x="561.3" y="227" font-size="12.0" fill="#00847e" textLength="33.0" lengthAdjust="spacingAndGlyphs">Oman</text><text x="537.6" y="254" font-size="12.5" fill="#00847e" textLength="36.9" lengthAdjust="spacingAndGlyphs">Turkey</text><text x="589.9" y="266" font-size="12.8" fill="#00847e" textLength="70.2" lengthAdjust="spacingAndGlyphs">South Korea</text><text x="480.1" y="129" font-size="15.9" fill="#00847e" textLength="40.9" lengthAdjust="spacingAndGlyphs">China</text><text x="560.7" y="161" font-size="12.3" fill="#4c6a9c" textLength="40.0" lengthAdjust="spacingAndGlyphs">Croatia</text><text x="488.5" y="181" font-size="12.3" fill="#4c6a9c" textLength="95.7" lengthAdjust="spacingAndGlyphs">North Macedonia</text></g>
<g fill="#222"><rect x="737" y="115.2" width="9" height="9" fill="#a2559c"/><text x="751.4" y="123.7" font-size="12.5" textLength="32.3" lengthAdjust="spacingAndGlyphs">Africa</text><rect x="737" y="132.8" width="9" height="9" fill="#00847e"/><text x="751.4" y="141.3" font-size="12.5" textLength="23.1" lengthAdjust="spacingAndGlyphs">Asia</text><rect x="737" y="150.4" width="9" height="9" fill="#4c6a9c"/><text x="751.4" y="158.9" font-size="12.5" textLength="38.9" lengthAdjust="spacingAndGlyphs">Europe</text><rect x="737" y="168.1" width="9" height="9" fill="#e56e5a"/><text x="751.4" y="176.6" font-size="12.5" textLength="80.3" lengthAdjust="spacingAndGlyphs">North America</text><rect x="737" y="185.7" width="9" height="9" fill="#38aaba"/><text x="751.4" y="194.2" font-size="12.5" textLength="44.8" lengthAdjust="spacingAndGlyphs">Oceania</text><rect x="737" y="203.3" width="9" height="9" fill="#883039"/><text x="751.4" y="211.8" font-size="12.5" textLength="80.1" lengthAdjust="spacingAndGlyphs">South America</text></g>
<line x1="737" y1="226.5" x2="833.6" y2="226.5" stroke="#e0e0e0" stroke-width="1"/>
<g fill="none" stroke="#aaa" stroke-width="0.7"><circle cx="785.6" cy="254" r="18.4"/><circle cx="785.6" cy="260.1" r="12.3"/></g>
<g fill="#5b5b5b" style="paint-order:stroke;stroke:#fff;stroke-width:2px"><text x="785.6" y="241.8" font-size="10.5" text-anchor="middle" textLength="21.4" lengthAdjust="spacingAndGlyphs">1.4B</text><text x="785.6" y="253.8" font-size="9.6" text-anchor="middle" textLength="25.6" lengthAdjust="spacingAndGlyphs">600M</text></g>
<text x="785.6" y="285.8" font-size="11.2" fill="#858585" text-anchor="middle" textLength="75.1" lengthAdjust="spacingAndGlyphs">Circles sized by</text>
<text x="785.6" y="299.6" font-size="12.3" font-weight="700" fill="#5b5b5b" text-anchor="middle" textLength="59.4" lengthAdjust="spacingAndGlyphs">Population</text>
<g fill="#858585"><text y="540.5" font-size="13"><tspan x="16.0" font-weight="700" textLength="27.7" lengthAdjust="spacingAndGlyphs">Data</tspan> <tspan x="46.8" font-weight="700" textLength="41.6" lengthAdjust="spacingAndGlyphs">source:</tspan> <tspan x="91.6" textLength="28.8" lengthAdjust="spacingAndGlyphs">Food</tspan> <tspan x="123.7" textLength="21.0" lengthAdjust="spacingAndGlyphs">and</tspan> <tspan x="148.1" textLength="63.2" lengthAdjust="spacingAndGlyphs">Agriculture</tspan> <tspan x="214.1" textLength="73.3" lengthAdjust="spacingAndGlyphs">Organization</tspan> <tspan x="290.8" textLength="11.8" lengthAdjust="spacingAndGlyphs">of</tspan> <tspan x="305.7" textLength="18.8" lengthAdjust="spacingAndGlyphs">the</tspan> <tspan x="327.8" textLength="38.5" lengthAdjust="spacingAndGlyphs">United</tspan> <tspan x="369.6" textLength="44.4" lengthAdjust="spacingAndGlyphs">Nations</tspan> <tspan x="417.3" textLength="40.5" lengthAdjust="spacingAndGlyphs">(2024);</tspan> <tspan x="461.1" textLength="50.6" lengthAdjust="spacingAndGlyphs">Eurostat,</tspan> <tspan x="515.1" textLength="38.9" lengthAdjust="spacingAndGlyphs">OECD,</tspan> <tspan x="557.3" textLength="24.8" lengthAdjust="spacingAndGlyphs">IMF,</tspan> <tspan x="585.4" textLength="21.0" lengthAdjust="spacingAndGlyphs">and</tspan> <tspan x="609.8" textLength="35.2" lengthAdjust="spacingAndGlyphs">World</tspan> <tspan x="648.1" textLength="28.6" lengthAdjust="spacingAndGlyphs">Bank</tspan> <tspan x="680.0" textLength="37.1" lengthAdjust="spacingAndGlyphs">(2025)</tspan></text><text y="560.8" font-size="13"><tspan x="16.0" font-weight="700" textLength="32.2" lengthAdjust="spacingAndGlyphs">Note:</tspan> <tspan x="51.4" textLength="27.2" lengthAdjust="spacingAndGlyphs">GDP</tspan> <tspan x="81.5" textLength="18.9" lengthAdjust="spacingAndGlyphs">per</tspan> <tspan x="103.5" textLength="34.2" lengthAdjust="spacingAndGlyphs">capita</tspan> <tspan x="141.0" textLength="8.7" lengthAdjust="spacingAndGlyphs">is</tspan> <tspan x="153.1" textLength="57.3" lengthAdjust="spacingAndGlyphs">expressed</tspan> <tspan x="213.7" textLength="10.4" lengthAdjust="spacingAndGlyphs">in</tspan> <tspan x="227.4" textLength="84.7" lengthAdjust="spacingAndGlyphs">international-$</tspan> <tspan x="315.4" textLength="11.0" lengthAdjust="spacingAndGlyphs">at</tspan> <tspan x="329.7" textLength="30.2" lengthAdjust="spacingAndGlyphs">2021</tspan> <tspan x="363.2" textLength="36.8" lengthAdjust="spacingAndGlyphs">prices.</tspan></text><text y="581.2" font-size="13"><tspan x="16.0" textLength="190.7" lengthAdjust="spacingAndGlyphs">OurWorldinData.org/food-supply</tspan> <tspan x="209.7" textLength="3.3" lengthAdjust="spacingAndGlyphs">|</tspan> <tspan x="216.3" textLength="17.2" lengthAdjust="spacingAndGlyphs">CC</tspan> <tspan x="236.8" textLength="16.2" lengthAdjust="spacingAndGlyphs">BY</tspan></text></g>
</svg></body></html>
